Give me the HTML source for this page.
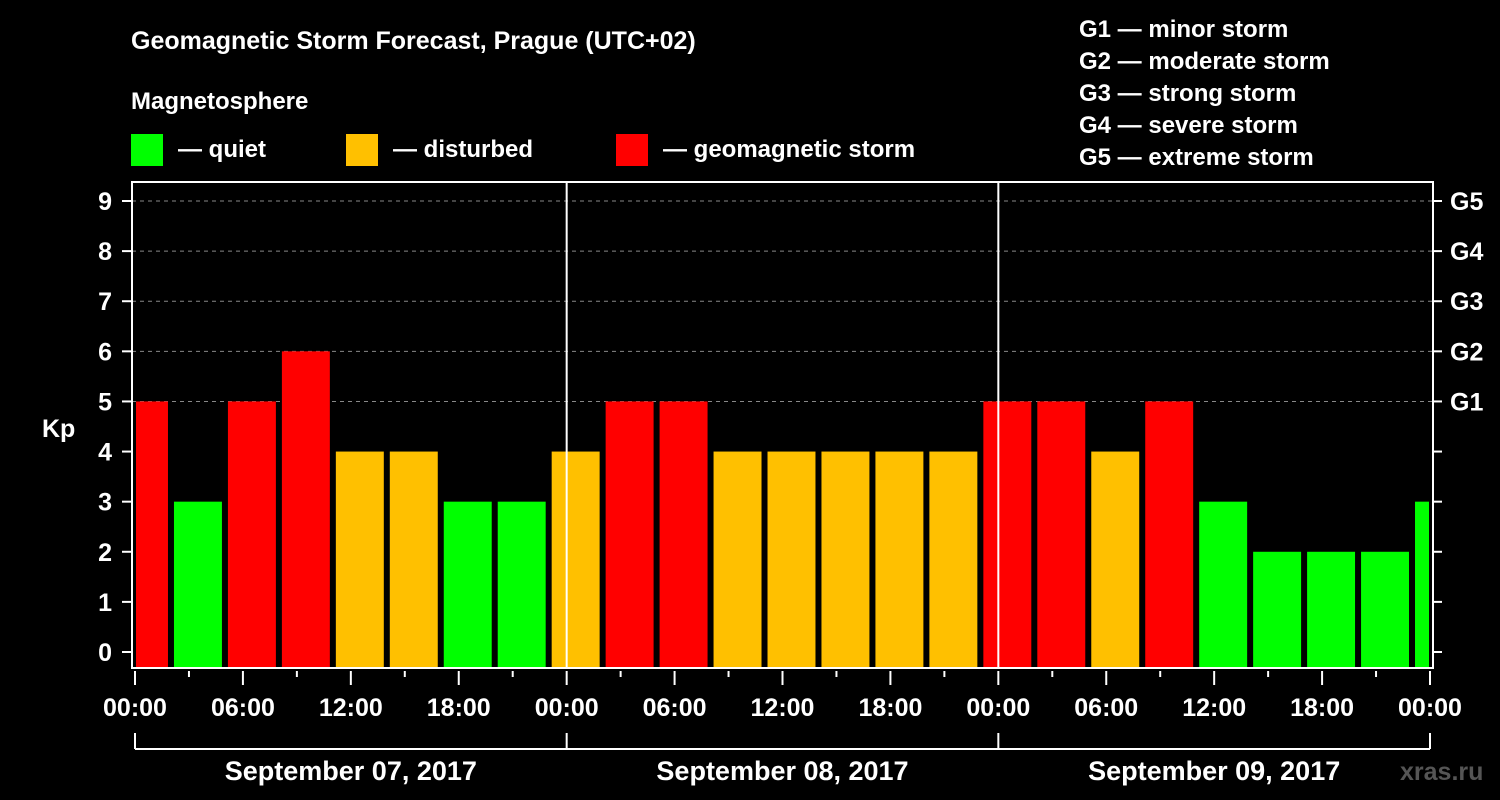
<!DOCTYPE html>
<html><head><meta charset="utf-8"><style>
html,body{margin:0;padding:0;background:#000;}
svg{display:block;font-family:"Liberation Sans",Arial,sans-serif;font-weight:bold;}
</style></head><body>
<svg id="chart" width="1500" height="800" viewBox="0 0 1500 800">
<rect x="0" y="0" width="1500" height="800" fill="#000"/>
<text x="131" y="49" fill="#fff" font-size="25">Geomagnetic Storm Forecast, Prague (UTC+02)</text>
<text x="131" y="109" fill="#fff" font-size="24">Magnetosphere</text>
<g><rect x="131" y="134" width="32" height="32" fill="#00ff00"/><text x="178" y="157" fill="#fff" font-size="24">— quiet</text></g>
<g><rect x="346" y="134" width="32" height="32" fill="#ffc000"/><text x="393" y="157" fill="#fff" font-size="24">— disturbed</text></g>
<g><rect x="616" y="134" width="32" height="32" fill="#ff0000"/><text x="663" y="157" fill="#fff" font-size="24">— geomagnetic storm</text></g>
<g fill="#fff" font-size="24">
<text x="1079" y="37">G1 — minor storm</text>
<text x="1079" y="69">G2 — moderate storm</text>
<text x="1079" y="101">G3 — strong storm</text>
<text x="1079" y="133">G4 — severe storm</text>
<text x="1079" y="165">G5 — extreme storm</text>
</g>
<text x="42" y="437" fill="#fff" font-size="25">Kp</text>
<text x="1400" y="780" fill="#555" font-size="25">xras.ru</text>
<g id="grid"></g>
<g id="bars"></g>
<g id="axes"></g>
</svg>
<script>
const kpValues=[5,3,5,6,4,4,3,3,4,5,5,4,4,4,4,4,5,5,4,5,3,2,2,2,3];
const yTicks=[0,1,2,3,4,5,6,7,8,9];
const gLabels=["G1","G2","G3","G4","G5"];
const dayLabels=["September 07, 2017","September 08, 2017","September 09, 2017"];
const hourLabels=["00:00","06:00","12:00","18:00"];
const firstBarHour=-1, barHours=3, totalHours=72;
const NS="http://www.w3.org/2000/svg";
const X0=135, X1=1430, PT=182, PB=668, L=132, R=1433;
const x=h=>X0+(X1-X0)*h/totalHours;
const y=v=>652-(652-201)*v/9;
function mk(tag,attrs,parent){const e=document.createElementNS(NS,tag);for(const k in attrs)e.setAttribute(k,attrs[k]);parent.appendChild(e);return e;}
const grid=document.getElementById('grid'),bars=document.getElementById('bars'),axes=document.getElementById('axes');
yTicks.forEach(v=>{
 if(v>=5){const g=mk('line',{x1:L,x2:R,y1:y(v),y2:y(v),stroke:'#888','stroke-width':1,'stroke-dasharray':'4,4'},grid);
 
 }
 const t=mk('line',{x1:122,x2:L,y1:y(v),y2:y(v),stroke:'#fff','stroke-width':2},axes);
 
 
 const t2=mk('line',{x1:R,x2:1442,y1:y(v),y2:y(v),stroke:'#fff','stroke-width':2},axes);
 
 
 const lb=mk('text',{x:112,y:y(v)+9,fill:'#fff','font-size':25,'text-anchor':'end'},axes);lb.textContent=v;
 
 
 if(v>=5){const gl=mk('text',{x:1450,y:y(v)+9,fill:'#fff','font-size':25},axes);gl.textContent=gLabels[v-5];
 
 }
});
kpValues.forEach((v,i)=>{
 const h=firstBarHour+i*barHours;
 let a=x(h)+3,b=x(h+barHours)-3;a=Math.max(a,136);b=Math.min(b,X1-1);
 const c=v>=5?'#ff0000':(v>=4?'#ffc000':'#00ff00');
 const r=mk('rect',{x:a,y:y(v),width:b-a,height:PB-1-y(v),fill:c},bars);
 
 
});
const fr=mk('rect',{x:L,y:PT,width:R-L,height:PB-PT,fill:'none',stroke:'#fff','stroke-width':2},axes);


for(let d=1;d<3;d++){const l=mk('line',{x1:x(d*24),x2:x(d*24),y1:PT,y2:PB,stroke:'#fff','stroke-width':2},axes);
 
 }
for(let h=0;h<=totalHours;h+=3){
 const major=h%6===0;
 const t=mk('line',{x1:x(h),x2:x(h),y1:671,y2:major?685:677,stroke:'#fff','stroke-width':2},axes);
 
 
 if(major){const lb=mk('text',{x:x(h),y:716,fill:'#fff','font-size':25,'text-anchor':'middle'},axes);lb.textContent=hourLabels[(h/6)%4];
 
 }
}
const br=mk('line',{x1:X0,x2:X1,y1:749,y2:749,stroke:'#fff','stroke-width':2},axes);


for(let d=0;d<=3;d++){const l=mk('line',{x1:x(d*24),x2:x(d*24),y1:733,y2:749,stroke:'#fff','stroke-width':2},axes);
 
 }
dayLabels.forEach((s,d)=>{const t=mk('text',{x:x(d*24+12),y:780,fill:'#fff','font-size':27,'text-anchor':'middle'},axes);t.textContent=s;
 
 });
</script>
</body></html>
